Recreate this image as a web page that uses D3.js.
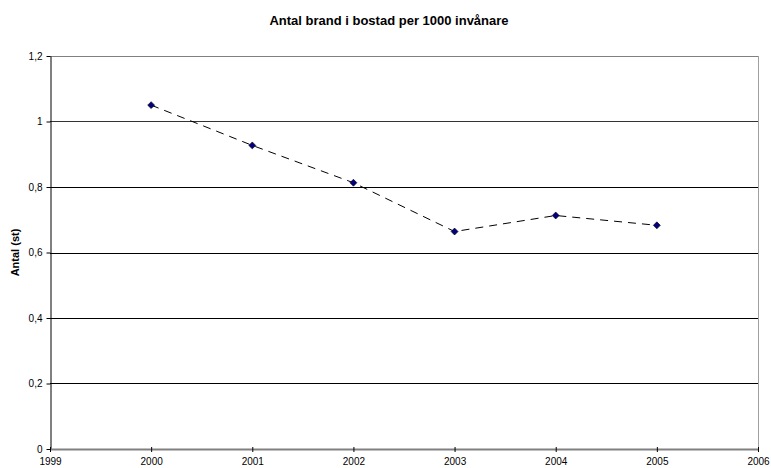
<!DOCTYPE html>
<html>
<head>
<meta charset="utf-8">
<script src="https://cdn.jsdelivr.net/npm/d3@7"></script>
<style>
  html, body { margin: 0; padding: 0; background: #fff; }
  svg { display: block; font-family: "Liberation Sans", Arial, sans-serif; }
</style>
</head>
<body>
<svg id="chart" width="771" height="468"></svg>
<script>
// Fires in homes per 1000 inhabitants, by year
const years = [2000, 2001, 2002, 2003, 2004, 2005];
const fires = [1.05, 0.927, 0.813, 0.664, 0.713, 0.683];
const xTicks = [1999, 2000, 2001, 2002, 2003, 2004, 2005, 2006];
const yTicks = [0, 0.2, 0.4, 0.6, 0.8, 1.0, 1.2];

const svg = d3.select("#chart");
const plot = { left: 50, right: 758, top: 56, bottom: 449 };
const font = "Liberation Sans, Arial, sans-serif";

const x = d3.scaleLinear().domain([1999, 2006]).range([plot.left, plot.right]);
const y = d3.scaleLinear().domain([0, 1.2]).range([plot.bottom, plot.top]);
const fmt = v => String(+v.toFixed(1)).replace(".", ",");

// Title
svg.append("text")
  .attr("x", 389).attr("y", 25)
  .attr("text-anchor", "middle")
  .attr("font-size", 13).attr("font-weight", "bold")
  .text("Antal brand i bostad per 1000 invånare");

// Y axis label
svg.append("text")
  .attr("transform", `translate(19,${(plot.top + plot.bottom) / 2}) rotate(-90)`)
  .attr("text-anchor", "middle")
  .attr("font-size", 11).attr("font-weight", "bold")
  .text("Antal (st)");

// Horizontal gridlines
svg.append("g")
  .selectAll("line")
  .data(yTicks.filter(d => d > 0))
  .join("line")
  .attr("x1", plot.left).attr("x2", plot.right)
  .attr("y1", d => Math.round(y(d)) + 0.5).attr("y2", d => Math.round(y(d)) + 0.5)
  .attr("stroke", d => d === 1.2 ? "#808080" : (d === 1.0 ? "#333" : "#000"))
  .attr("stroke-width", 1);

// Right border of plot area
svg.append("line")
  .attr("x1", plot.right + 0.5).attr("x2", plot.right + 0.5)
  .attr("y1", plot.top).attr("y2", plot.bottom)
  .attr("stroke", "#a0a0a0");

// Y axis
const yAxis = svg.append("g")
  .attr("transform", `translate(${plot.left + 0.5},0)`)
  .call(d3.axisLeft(y).tickValues(yTicks).tickFormat(fmt).tickSize(4).tickSizeOuter(0).tickPadding(4));
yAxis.select(".domain").attr("stroke", "#000");
yAxis.selectAll(".tick line").attr("stroke", "#000");
yAxis.selectAll("text").attr("font-size", 10).attr("fill", "#000").attr("font-family", font);

// X axis
const xAxis = svg.append("g")
  .attr("transform", `translate(0,${plot.bottom})`)
  .call(d3.axisBottom(x).tickValues(xTicks).tickFormat(d3.format("d")).tickSize(3).tickSizeOuter(0).tickPadding(6));
xAxis.select(".domain").attr("stroke", "#808080").attr("stroke-width", 2);
xAxis.selectAll(".tick line").attr("stroke", "#000").attr("y1", -2);
xAxis.selectAll("text").attr("font-size", 10).attr("fill", "#000").attr("font-family", font);

// Dashed series line
const line = d3.line().x((d, i) => x(years[i])).y(d => y(d));
svg.append("path")
  .datum(fires)
  .attr("d", line)
  .attr("fill", "none")
  .attr("stroke", "#000")
  .attr("stroke-width", 1)
  .attr("stroke-dasharray", "8,6");

// Diamond markers (squares turned 45°)
svg.append("g")
  .selectAll("path")
  .data(fires)
  .join("path")
  .attr("d", d3.symbol(d3.symbolSquare, 24))
  .attr("transform", (d, i) => `translate(${x(years[i])},${y(d)}) rotate(45)`)
  .attr("fill", "#000080")
  .attr("stroke", "#000")
  .attr("stroke-width", 0.6);
</script>
</body>
</html>
